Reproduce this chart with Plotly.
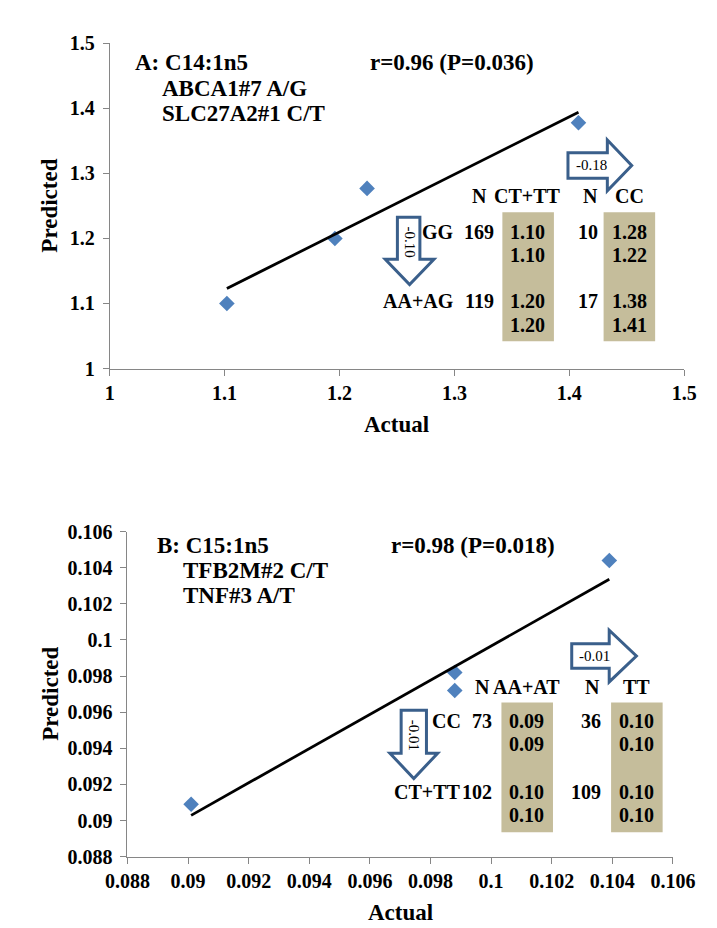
import plotly.graph_objects as go
import numpy as np

W, H = 717, 928
FONT = "Liberation Serif"

# ---------------- Panel A data ----------------
a_actual = [1.102, 1.196, 1.224, 1.408]
a_pred = [1.100, 1.200, 1.277, 1.378]
a_ticks = [1.0, 1.1, 1.2, 1.3, 1.4, 1.5]
a_ticklabels = ["1", "1.1", "1.2", "1.3", "1.4", "1.5"]
a_title = ["A: C14:1n5", "ABCA1#7 A/G", "SLC27A2#1 C/T"]
a_r = "r=0.96 (P=0.036)"
a_rows = ["GG", "AA+AG"]
a_cols = ["CT+TT", "CC"]
a_n = [[169, 10], [119, 17]]
a_cells = [[["1.10", "1.10"], ["1.28", "1.22"]],
           [["1.20", "1.20"], ["1.38", "1.41"]]]
a_down = "-0.10"
a_right = "-0.18"

# ---------------- Panel B data ----------------
b_actual = [0.0901, 0.0988, 0.0988, 0.1039]
b_pred = [0.0909, 0.0982, 0.0972, 0.1044]
b_ticks = [0.088, 0.090, 0.092, 0.094, 0.096, 0.098, 0.100, 0.102, 0.104, 0.106]
b_ticklabels = ["0.088", "0.09", "0.092", "0.094", "0.096", "0.098", "0.1",
                "0.102", "0.104", "0.106"]
b_title = ["B: C15:1n5", "TFB2M#2 C/T", "TNF#3 A/T"]
b_r = "r=0.98 (P=0.018)"
b_rows = ["CC", "CT+TT"]
b_cols = ["AA+AT", "TT"]
b_n = [[73, 36], [102, 109]]
b_cells = [[["0.09", "0.09"], ["0.10", "0.10"]],
           [["0.10", "0.10"], ["0.10", "0.10"]]]
b_down = "-0.01"
b_right = "-0.01"


def px(x):
    return x / W


def py(y):
    return 1 - y / H


MARKER = "#4f81bd"
ARROW = "#3a5f8b"
SHADE = "#c5bd9b"
AXIS = "#868686"

fig = go.Figure()
annotations = []
shapes = []


def txt(text, x, y, anchor="center", size=20, bold=True, angle=0, color="black"):
    annotations.append(dict(
        text=f"<b>{text}</b>" if bold else text, x=px(x), y=py(y),
        xref="paper", yref="paper",
        xanchor=anchor, yanchor="middle", showarrow=False, textangle=angle,
        font=dict(family=FONT, size=size, color=color)))


def panel(idx, actual, pred, ticks, ticklabels, rng, geo):
    xa = "x" if idx == 1 else "x2"
    ya = "y" if idx == 1 else "y2"
    fig.add_trace(go.Scatter(
        x=actual, y=pred, mode="markers", xaxis=xa, yaxis=ya,
        marker=dict(symbol="diamond", size=12, color=MARKER,
                    line=dict(width=0)), showlegend=False))
    k, b = np.polyfit(actual, pred, 1)
    xs = np.array([min(actual), max(actual)])
    fig.add_trace(go.Scatter(
        x=xs, y=k * xs + b, mode="lines", xaxis=xa, yaxis=ya,
        line=dict(color="black", width=2.75), showlegend=False))
    x0, x1, y0, y1 = geo
    axis_common = dict(
        range=rng, tickvals=ticks, ticktext=[f"<b>{t}</b>" for t in ticklabels],
        showgrid=False,
        zeroline=False, showline=True, linecolor=AXIS, linewidth=1,
        ticks="outside", ticklen=6, tickcolor=AXIS, tickwidth=1,
        tickfont=dict(family=FONT, size=20, color="black"))
    fig.update_layout(**{
        ("xaxis" if idx == 1 else "xaxis2"): dict(
            domain=[px(x0), px(x1)], anchor=ya, **axis_common),
        ("yaxis" if idx == 1 else "yaxis2"): dict(
            domain=[py(y1), py(y0)], anchor=xa, ticklabelstandoff=4, **axis_common),
    })
    # axis titles
    txt("Actual", (x0 + x1) / 2, y1 + 57, size=23)
    txt("Predicted", 21, (y0 + y1) / 2, size=23, angle=-90)


def down_arrow(x0, x1, sx0, sx1, ytop, yhead, ytip, label):
    xc = (x0 + x1) / 2
    pts = [(sx0, ytop), (sx1, ytop), (sx1, yhead), (x1, yhead), (xc, ytip),
           (x0, yhead), (sx0, yhead)]
    path = "M " + " L ".join(f"{px(a):.5f},{py(c):.5f}" for a, c in pts) + " Z"
    shapes.append(dict(type="path", path=path, xref="paper", yref="paper",
                       line=dict(color=ARROW, width=3), fillcolor="white"))
    txt(label, (sx0 + sx1) / 2 + 1, (ytop + yhead) / 2 + 4, size=15, bold=False, angle=90)


def right_arrow(xl, xh, xt, sy0, sy1, hy0, hy1, label):
    yc = (hy0 + hy1) / 2
    pts = [(xl, sy0), (xh, sy0), (xh, hy0), (xt, yc), (xh, hy1), (xh, sy1),
           (xl, sy1)]
    path = "M " + " L ".join(f"{px(a):.5f},{py(c):.5f}" for a, c in pts) + " Z"
    shapes.append(dict(type="path", path=path, xref="paper", yref="paper",
                       line=dict(color=ARROW, width=3), fillcolor="white"))
    txt(label, (xl + xh) / 2 + 4, yc, size=15, bold=False)


def table(rows, cols, ns, cells, g):
    for cx0, cx1 in g["rects"]:
        shapes.append(dict(type="rect", xref="paper", yref="paper",
                           x0=px(cx0), x1=px(cx1), y0=py(g["ry1"]), y1=py(g["ry0"]),
                           fillcolor=SHADE, line=dict(width=0), layer="below"))
    hy = g["hy"]
    for j, col in enumerate(cols):
        txt("N", g["hnx"][j], hy, anchor="right")
        txt(col, g["vx"][j], hy)
    for i, row in enumerate(rows):
        y1, y2 = g["rowy"][i]
        txt(row, g["labx"], y1, anchor="right")
        for j in range(len(cols)):
            txt(str(ns[i][j]), g["nx"][j], y1, anchor="right")
            txt(cells[i][j][0], g["vx"][j], y1)
            txt(cells[i][j][1], g["vx"][j], y2)


def header_text(lines, rtext, x0, y0, indent, rx, lh):
    txt(lines[0], x0, y0, anchor="left", size=23)
    for k, line in enumerate(lines[1:], start=1):
        txt(line, x0 + indent, y0 + k * lh, anchor="left", size=23)
    txt(rtext, rx, y0, anchor="left", size=23)


# ---------------- Panel A ----------------
panel(1, a_actual, a_pred, a_ticks, a_ticklabels, [1.0, 1.5], (85, 698, 25, 358))
header_text(a_title, a_r, 110, 45, 29, 361, 26)
table(a_rows, a_cols, a_n, a_cells, dict(
    rects=[(504, 559), (612, 667)], ry0=198, ry1=330, hy=181,
    hnx=[490, 608], nx=[497, 608], vx=[531, 640], labx=454,
    rowy=[(218, 242), (289, 313)]))
down_arrow(379, 431, 392, 416, 203, 246, 272, a_down)
right_arrow(574, 616, 642, 137, 163, 124, 176, a_right)

# ---------------- Panel B ----------------
panel(2, b_actual, b_pred, b_ticks, b_ticklabels, [0.088, 0.106], (104, 686, 525, 858))
header_text(b_title, b_r, 133, 539, 28, 383, 26)
table(b_rows, b_cols, b_n, b_cells, dict(
    rects=[(503, 558), (620, 675)], ry0=700, ry1=833, hy=684,
    hnx=[493, 610], nx=[495, 611], vx=[530, 647], labx=462,
    rowy=[(719, 743), (792, 815)]))
down_arrow(384, 435, 396, 423, 708, 752, 778, b_down)
right_arrow(578, 618, 647, 640, 665, 626, 679, b_right)

fig.update_layout(
    width=W, height=H, margin=dict(l=0, r=0, t=0, b=0),
    paper_bgcolor="white", plot_bgcolor="white",
    annotations=annotations, shapes=shapes, showlegend=False,
)

fig.write_html("out.html")
